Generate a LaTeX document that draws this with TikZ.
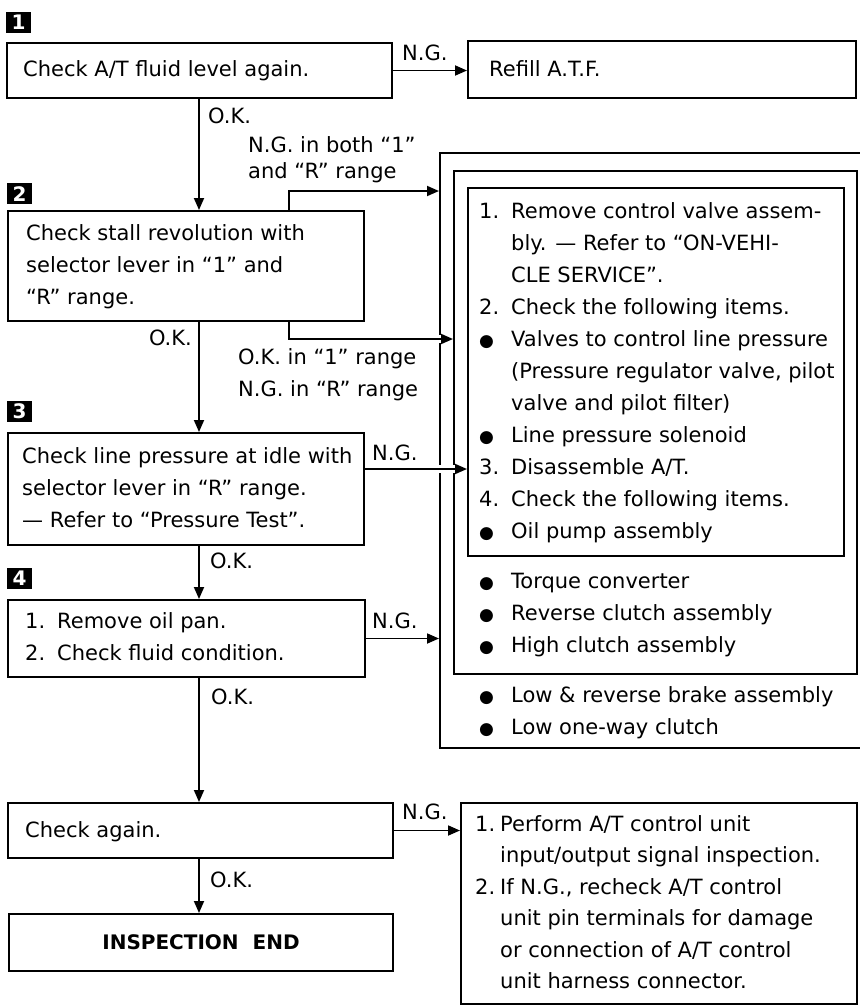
\documentclass[tikz,border=0pt]{standalone}
\usepackage{fontspec}
\setmainfont{DejaVu Sans}
\usetikzlibrary{arrows.meta}
\newcommand\bul{{\fontsize{17}{17}\selectfont ●}}
\tikzset{
  box/.style={draw, line width=2pt, rectangle, inner sep=0pt, anchor=north west},
  arr/.style={line width=1.8pt, -{Triangle[length=12pt,width=10pt]}},
  txt/.style={anchor=base west, inner sep=0pt},
  badge/.style={fill=black, text=white, font=\fontsize{20}{20}\selectfont\bfseries,
    minimum width=25pt, minimum height=21pt, inner sep=0pt, anchor=north west},
  gap/.style={preaction={draw=white, line width=8pt, -, shorten <=6pt, shorten >=9pt}}
}
\begin{document}
\begin{tikzpicture}[x=1pt, y=-1pt, font=\fontsize{21}{32}\selectfont]
\useasboundingbox (0,0) rectangle (860,1005);

% badges
\node[badge] (n1) at (6,12) {1};
\node[badge] (n2) at (7,183) {2};
\node[badge] (n3) at (7,401) {3};
\node[badge] (n4) at (7,568) {4};

% left boxes
\node[box, minimum width=385pt, minimum height=55pt] (b1) at (6,42) {};
\node[box, minimum width=388pt, minimum height=57pt] (refill) at (467,40) {};
\node[box, minimum width=356pt, minimum height=110pt] (b2) at (7,210) {};
\node[box, minimum width=356pt, minimum height=112pt] (b3) at (7,432) {};
\node[box, minimum width=357pt, minimum height=77pt] (b4) at (7,599) {};
\node[box, minimum width=385pt, minimum height=55pt] (b5) at (7,802) {};
\node[box, minimum width=384pt, minimum height=57pt] (fin) at (8,913) {};

% right nested boxes
\node[box, minimum width=441pt, minimum height=595pt] (outer) at (439,152) {};
\node[box, minimum width=403pt, minimum height=503pt] (mid) at (453,170) {};
\node[box, minimum width=376pt, minimum height=368pt] (inner) at (467,187) {};
\node[box, minimum width=396pt, minimum height=201pt] (last) at (460,802) {};

% box texts
\node[txt] (t1) at (23,76) {Check A/T fluid level again.};
\node[txt] (tr) at (489,76) {Refill A.T.F.};
\node[txt] (t2) at (26,240) {\begin{tabular}[t]{@{}l@{}}Check stall revolution with\\selector lever in ``1'' and\\``R'' range.\end{tabular}};
\node[txt] (t3) at (22,463) {\begin{tabular}[t]{@{}l@{}}Check line pressure at idle with\\selector lever in ``R'' range.\\--- Refer to ``Pressure Test''.\end{tabular}};
\node[txt] (t4) at (25,628) {\begin{tabular}[t]{@{}p{32pt}@{}l@{}}1. & Remove oil pan.\\2. & Check fluid condition.\end{tabular}};
\node[txt] (t5) at (25,837) {Check again.};
\node[font=\fontsize{20}{24}\selectfont\bfseries, inner sep=0pt] (tf) at (fin.center) {INSPECTION\ \ END};

\node[txt] (ti) at (479,218) {\begin{tabular}[t]{@{}p{32pt}@{}l@{}}
1. & Remove control valve assem-\\
   & bly. --- Refer to ``ON-VEHI-\\
   & CLE SERVICE''.\\
2. & Check the following items.\\
\bul & Valves to control line pressure\\
   & (Pressure regulator valve, pilot\\
   & valve and pilot filter)\\
\bul & Line pressure solenoid\\
3. & Disassemble A/T.\\
4. & Check the following items.\\
\bul & Oil pump assembly
\end{tabular}};
\node[txt] (tm) at (479,588) {\begin{tabular}[t]{@{}p{32pt}@{}l@{}}
\bul & Torque converter\\
\bul & Reverse clutch assembly\\
\bul & High clutch assembly
\end{tabular}};
\node[txt] (to) at (479,702) {\begin{tabular}[t]{@{}p{32pt}@{}l@{}}
\bul & Low \& reverse brake assembly\\
\bul & Low one-way clutch
\end{tabular}};
\node[txt, font=\fontsize{21}{31.5}\selectfont] (tl) at (475,831) {\begin{tabular}[t]{@{}p{25pt}@{}l@{}}
1. & Perform A/T control unit\\
   & input/output signal inspection.\\
2. & If N.G., recheck A/T control\\
   & unit pin terminals for damage\\
   & or connection of A/T control\\
   & unit harness connector.
\end{tabular}};

% connector labels
\node[txt] (lng1) at (402,60) {N.G.};
\node[txt] (lok1) at (208,123) {O.K.};
\node[txt] (lngboth) at (248,152) {\begin{tabular}[t]{@{}l@{}}N.G. in both ``1''\\[-6pt]and ``R'' range\end{tabular}};
\node[txt, anchor=base east] (lok2) at (192,345) {O.K.};
\node[txt] (lokng) at (238,364) {\begin{tabular}[t]{@{}l@{}}O.K. in ``1'' range\\N.G. in ``R'' range\end{tabular}};
\node[txt] (lng3) at (372,460) {N.G.};
\node[txt] (lok3) at (210,568) {O.K.};
\node[txt] (lng4) at (372,628) {N.G.};
\node[txt] (lok4) at (211,704) {O.K.};
\node[txt] (lng5) at (402,819) {N.G.};
\node[txt] (lok5) at (210,887) {O.K.};

% connectors
\coordinate (sp) at (199,0);
\draw[arr] (b1.south -| sp) -- (b2.north -| sp);
\draw[arr] (b2.south -| sp) -- (b3.north -| sp);
\draw[arr] (b3.south -| sp) -- (b4.north -| sp);
\draw[arr] (b4.south -| sp) -- (b5.north -| sp);
\draw[arr] (b5.south -| sp) -- (fin.north -| sp);

\draw[arr] (b1.east) -- (b1.east -| refill.west);
\coordinate (ngboth) at (289,191);
\draw[arr] (b2.north -| ngboth) |- (outer.west |- ngboth);
\coordinate (okng) at (289,339);
\draw[arr, gap] (b2.south -| okng) |- (mid.west |- okng);
\coordinate (ng3) at (0,469);
\draw[arr, gap] (b3.east |- ng3) -- (inner.west |- ng3);
\draw[arr] (b4.east) -- (b4.east -| outer.west);
\draw[arr] (b5.east) -- (b5.east -| last.west);
\end{tikzpicture}
\end{document}
